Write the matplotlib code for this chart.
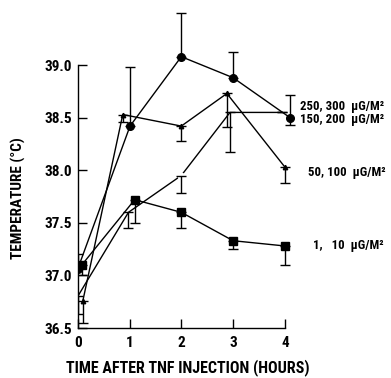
import matplotlib
matplotlib.use("Agg")
import matplotlib.pyplot as plt
from matplotlib import font_manager
import numpy as np

# pick a condensed bold font if one is installed
_entries = font_manager.fontManager.ttflist
_fam, _stretch = None, 'normal'
for pref in ['Liberation Sans Narrow', 'Roboto Condensed', 'Open Sans Condensed',
             'Noto Sans Condensed', 'DejaVu Sans Condensed']:
    if any(e.name == pref for e in _entries):
        _fam = pref
        break
if _fam is None:
    for e in _entries:
        st = str(e.stretch)
        if ('condensed' in st or st.isdigit() and int(st) < 500) and e.name in (
                'DejaVu Sans', 'Noto Sans', 'Roboto', 'Open Sans', 'Inter', 'Liberation Sans'):
            _fam, _stretch = e.name, 'condensed'
            break
if _fam is None:
    _fam = 'Liberation Sans'
plt.rcParams['font.family'] = [_fam, 'DejaVu Sans']
plt.rcParams['font.stretch'] = _stretch

# Data
t_hi = [0.0, 1.01, 2.0, 3.0, 4.1]          # 250, 300 ug/m2 (circles)
y_hi = [37.06, 38.42, 39.08, 38.88, 38.50]
up_hi = [0.14, 0.56, 0.42, 0.24, 0.22]
dn_hi = [0.0, 0.0, 0.0, 0.0, 0.07]

t_mh = [0.1, 0.87, 2.0, 2.88, 4.0]         # 150, 200 ug/m2 (triangles)
y_mh = [36.76, 38.53, 38.42, 38.73, 38.03]
dn_mh = [0.21, 0.07, 0.14, 0.32, 0.15]

t_ml = [0.0, 0.98, 2.0, 2.94, 3.95]        # 50, 100 ug/m2 (no marker)
y_ml = [36.80, 37.60, 37.95, 38.55, 38.55]
dn_ml = [0.17, 0.15, 0.17, 0.38, 0.0]

t_lo = [0.08, 1.1, 2.0, 3.0, 4.0]          # 1, 10 ug/m2 (squares)
y_lo = [37.10, 37.72, 37.60, 37.33, 37.28]
dn_lo = [0.10, 0.22, 0.15, 0.08, 0.18]

labels = ['250, 300  \u03bcG/M\u00b2', '150, 200  \u03bcG/M\u00b2',
          '50, 100  \u03bcG/M\u00b2', '1,   10  \u03bcG/M\u00b2']
label_pos = [(4.29, 38.605), (4.29, 38.485), (4.44, 37.98), (4.54, 37.28)]

xticks = [0, 1, 2, 3, 4]
yticks = [36.5, 37.0, 37.5, 38.0, 38.5, 39.0]

fig = plt.figure(figsize=(3.91, 3.78), dpi=100)
ax = fig.add_axes([77.7/391, 50/378, 310.8/391, 326/378])
ax.set_xlim(0, 6)
ax.set_ylim(36.5, 39.6)

lw = 1.0
cap = 3.6
ekw = dict(ecolor='black', elinewidth=lw, capsize=cap, capthick=lw)

ax.errorbar(t_hi, y_hi, yerr=[dn_hi, up_hi], color='black', lw=lw,
            marker='o', ms=5.5, **ekw, zorder=3)
ax.errorbar(t_mh, y_mh, yerr=[dn_mh, np.zeros(len(dn_mh))], color='black', lw=lw,
            marker='^', ms=3.2, **ekw, zorder=3)
ax.errorbar(t_ml, y_ml, yerr=[dn_ml, np.zeros(len(dn_ml))], color='black', lw=lw,
            fmt='none', **ekw, zorder=3)
ax.plot(t_ml, y_ml, color='black', lw=lw, marker='o', ms=4.5,
        mfc='white', mec='white', markevery=[2], zorder=2)
ax.errorbar(t_lo, y_lo, yerr=[dn_lo, np.zeros(len(dn_lo))], color='black', lw=lw,
            marker='s', ms=5.5, **ekw, zorder=3)

lab_size = 9.2 if _stretch != 'normal' or 'Narrow' in _fam or 'Condensed' in _fam else 7.5
for lab, (x, y) in zip(labels, label_pos):
    ax.text(x, y, lab, fontsize=lab_size, fontweight='bold', va='center', ha='left')

for s in ['top', 'right']:
    ax.spines[s].set_visible(False)
ax.spines['left'].set_bounds(36.5, 39.0)
ax.spines['bottom'].set_bounds(0, 4)
for s in ['left', 'bottom']:
    ax.spines[s].set_linewidth(lw)

ax.set_xticks(xticks)
ax.set_xticklabels([str(v) for v in xticks])
ax.set_yticks(yticks)
ax.set_yticklabels(['%.1f' % v for v in yticks])
ax.tick_params(direction='in', length=6.5, width=lw, labelsize=11)
ax.tick_params(axis='x', pad=6)
ax.tick_params(axis='y', pad=4)
for tl in ax.get_xticklabels() + ax.get_yticklabels():
    tl.set_fontweight('bold')

ax.set_xlabel('TIME AFTER TNF INJECTION (HOURS)', fontsize=11.5, fontweight='bold')
ax.xaxis.set_label_coords(110/310.8, -31/326)
ax.set_ylabel('TEMPERATURE (\u00b0C)', fontsize=11, fontweight='bold')
ax.yaxis.set_label_coords(-52/310.8, 130/326)

fig.savefig('out.png', dpi=100)
